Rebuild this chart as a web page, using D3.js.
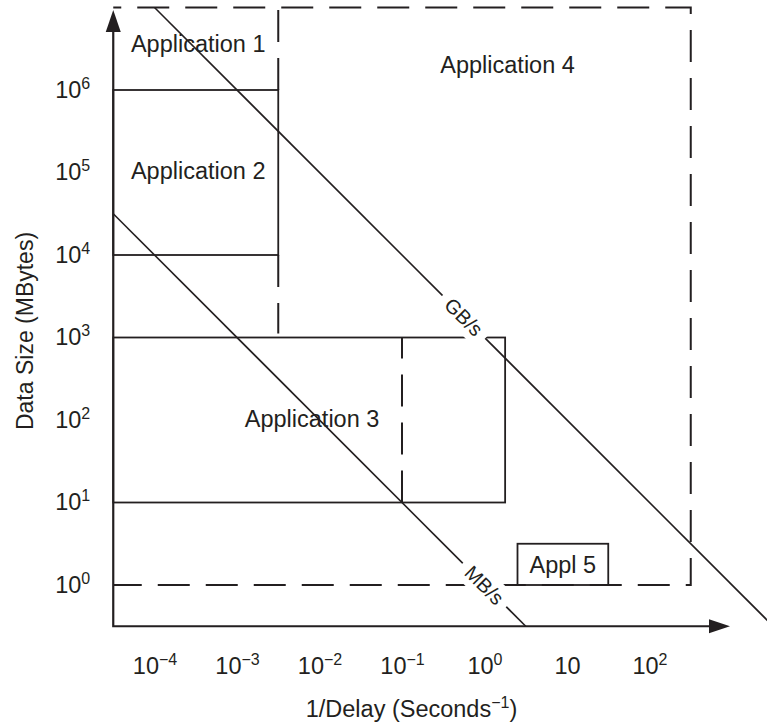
<!DOCTYPE html>
<html><head><meta charset="utf-8">
<script src="https://cdn.jsdelivr.net/npm/d3@7"></script>
<style>
html,body{margin:0;padding:0;background:#fff;}
svg{display:block;}
</style></head><body>
<svg id="chart" width="767" height="724"></svg>
<script>
// ---------- data (log-scale values) ----------
const xExtent = [Math.pow(10,-4.5), 1e3];          // 1/Delay (s^-1)
const yExtent = [Math.pow(10,-0.5), 1e7];          // Data size (MB)
const xTickValues = [1e-4, 1e-3, 1e-2, 1e-1, 1, 10, 100];
const xTickBase   = ["10","10","10","10","10","10","10"];
const xTickExp    = ["\u22124","\u22123","\u22122","\u22121","0","","2"];
const yTickValues = [1, 10, 100, 1e3, 1e4, 1e5, 1e6];
const yTickBase   = ["10","10","10","10","10","10","10"];
const yTickExp    = ["0","1","2","3","4","5","6"];

// solid application boxes: [rateFrom, rateTo, sizeFrom, sizeTo]
const app2Box = [Math.pow(10,-4.5), Math.pow(10,-2.5), 1e4, 1e6];
const app3Box = [Math.pow(10,-4.5), Math.pow(10,0.25), 10, 1e3];
const app5Box = [Math.pow(10,0.4), Math.pow(10,1.5), 1, Math.pow(10,0.5)];
// dashed Application 4 outline: [rateFrom, rateTo, sizeFrom, sizeTo]
const app4Outline = [Math.pow(10,-4.5), Math.pow(10,2.5), 1, 1e7];
// dashed vertical segments: [rate, sizeStart, sizeEnd]
const dashedSegments = [
  [Math.pow(10,-2.5), 1e6, 1e7],
  [Math.pow(10,-2.5), 1e4, Math.pow(10,3.05)],
  [0.1, 10, 1e3]
];
// constant-rate lines: data size * (1/delay) = product (MB/s)
const rateNames    = ["MB/s", "GB/s"];
const rateProducts = [1, 1000];
const rateFrom     = [Math.pow(10,-4.5), 1e-4];
const rateTo       = [Math.pow(10,0.5), Math.pow(10,3.45)];
const rateLabelAt  = [1, Math.pow(10,-0.25)];
// application labels: [text, rate, size]
const appLabels = [
  ["Application 1", Math.pow(10,-3.47), Math.pow(10,6.56)],
  ["Application 2", Math.pow(10,-3.47), Math.pow(10,5.02)],
  ["Application 3", Math.pow(10,-2.09), Math.pow(10,2.02)],
  ["Application 4", Math.pow(10,0.28),  Math.pow(10,6.31)],
  ["Appl 5",        Math.pow(10,0.95),  Math.pow(10,0.25)]
];

// ---------- drawing ----------
const ink = "#231f20";
const font = "'Liberation Sans', Arial, Helvetica, sans-serif";
const fs = 23.5;
const svg = d3.select("#chart").attr("font-family", font);

const x = d3.scaleLog().domain(xExtent).range([113.25, 732]);
const y = d3.scaleLog().domain(yExtent).range([626.25, 7.5]);
const x0 = x(xExtent[0]), y0 = y(yExtent[0]);

const lineGen = d3.line().x(d => x(d[0])).y(d => y(d[1]));

// Application 4 dashed outline
const [a4r0, a4r1, a4s0, a4s1] = app4Outline;
svg.append("path")
  .attr("d", lineGen([[a4r0, a4s1], [a4r1, a4s1], [a4r1, a4s0], [a4r0, a4s0]]))
  .attr("fill", "none").attr("stroke", ink).attr("stroke-width", 2)
  .attr("stroke-dasharray", "32,16").attr("stroke-dashoffset", 24);

// dashed vertical segments
dashedSegments.forEach(s => {
  svg.append("path")
    .attr("d", lineGen([[s[0], s[1]], [s[0], s[2]]]))
    .attr("fill", "none").attr("stroke", ink).attr("stroke-width", 2)
    .attr("stroke-dasharray", "32,16");
});

// solid boxes
[app2Box, app3Box, app5Box].forEach(b => {
  svg.append("rect")
    .attr("x", x(b[0])).attr("y", y(b[3]))
    .attr("width", x(b[1]) - x(b[0])).attr("height", y(b[2]) - y(b[3]))
    .attr("fill", "none").attr("stroke", ink).attr("stroke-width", 1.8);
});

// constant-rate lines
rateNames.forEach((n, i) => {
  const p = rateProducts[i];
  svg.append("path")
    .attr("d", lineGen([[rateFrom[i], p / rateFrom[i]], [rateTo[i], p / rateTo[i]]]))
    .attr("fill", "none").attr("stroke", ink).attr("stroke-width", 1.6);
});

// rate labels with white background
rateNames.forEach((n, i) => {
  const r = rateLabelAt[i], s = rateProducts[i] / r;
  const g = svg.append("g").attr("transform", `translate(${x(r)},${y(s)}) rotate(45)`);
  const bg = g.append("rect").attr("fill", "#fff");
  const t = g.append("text").attr("text-anchor", "middle").attr("dy", "0.36em")
    .attr("font-size", 20).attr("fill", ink).text(n);
  const bb = t.node().getBBox();
  bg.attr("x", bb.x - 8).attr("y", -14).attr("width", bb.width + 16).attr("height", 28);
});

// axes (ticks via d3 axes)
const gx = svg.append("g").attr("transform", `translate(0,${y0})`)
  .call(d3.axisBottom(x).tickValues(xTickValues).tickSize(0).tickPadding(31).tickFormat(""));
gx.attr("font-size", fs).attr("font-family", font);
gx.select(".domain").remove();
gx.selectAll(".tick text").each(function(d, i) {
  const t = d3.select(this).attr("fill", ink);
  t.append("tspan").text(xTickBase[i]);
  if (xTickExp[i]) t.append("tspan").attr("font-size", 16).attr("dy", -9).text(xTickExp[i]);
});

const gy = svg.append("g").attr("transform", `translate(${x0},0)`)
  .call(d3.axisLeft(y).tickValues(yTickValues).tickSize(0).tickPadding(23).tickFormat(""));
gy.attr("font-size", fs).attr("font-family", font);
gy.select(".domain").remove();
gy.selectAll(".tick text").each(function(d, i) {
  const t = d3.select(this).attr("fill", ink).attr("dy", "0.3em");
  t.append("tspan").text(yTickBase[i]);
  t.append("tspan").attr("font-size", 16).attr("dy", -9).text(yTickExp[i]);
});

// axis lines with arrowheads
const xTip = 730, yTip = 10;
svg.append("path").attr("d", `M${x0},${yTip + 18}V${y0}H${xTip - 18}`)
  .attr("fill", "none").attr("stroke", ink).attr("stroke-width", 2.2);
svg.append("path").attr("d", `M${x0},${yTip}L${x0 - 7.5},${yTip + 22}L${x0 + 7.5},${yTip + 22}Z`).attr("fill", ink);
svg.append("path").attr("d", `M${xTip},${y0}L${xTip - 21},${y0 - 7}L${xTip - 21},${y0 + 7}Z`).attr("fill", ink);

// application labels
appLabels.forEach(l => {
  svg.append("text").attr("x", x(l[1])).attr("y", y(l[2])).attr("dy", "0.36em")
    .attr("text-anchor", "middle").attr("font-size", fs).attr("fill", ink).text(l[0]);
});

// axis titles
const xt = svg.append("text").attr("x", 411.5).attr("y", 717).attr("text-anchor", "middle")
  .attr("font-size", fs).attr("fill", ink);
xt.append("tspan").text("1/Delay (Seconds");
xt.append("tspan").attr("font-size", 16).attr("dy", -9).text("\u22121");
xt.append("tspan").attr("dy", 9).text(")");

svg.append("text").attr("transform", "translate(33,331) rotate(-90)")
  .attr("text-anchor", "middle").attr("font-size", 23).attr("fill", ink)
  .text("Data Size (MBytes)");
</script>
</body></html>
